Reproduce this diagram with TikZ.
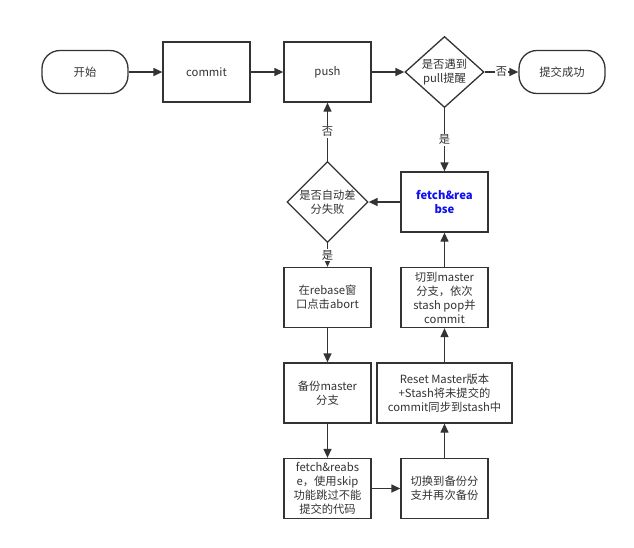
\documentclass[tikz,border=0pt]{standalone}
\usepackage{fontspec}
\setmainfont{Noto Sans CJK SC}
\usetikzlibrary{shapes.geometric,arrows.meta}
\definecolor{linegray}{HTML}{333333}
\definecolor{fetchblue}{HTML}{1010F0}
\tikzset{
  box/.style={draw=linegray, line width=1.3pt, minimum width=87pt, minimum height=60pt,
    align=center, text=linegray, inner sep=2pt},
  term/.style={box, rounded corners=18pt, minimum width=86pt, minimum height=43pt},
  decision/.style={diamond, draw=linegray, line width=1.3pt, minimum width=79pt,
    minimum height=60pt, inner sep=0pt, align=center, text=linegray},
  flow/.style={draw=linegray, line width=1.3pt, -{Triangle[length=9pt,width=8pt]}},
  tag/.style={fill=white, text=linegray, inner sep=1pt}
}
\begin{document}
\begin{tikzpicture}[x=1pt, y=-1pt, font=\fontsize{11.3}{14}\selectfont]
    \useasboundingbox (0,0) rectangle (634,547);

    % top row
    \node[term] (start) at (85,72) {开始};
    \node[box] (commit) at (206.5,72) {commit};
    \node[box] (push) at (327.5,72) {push};
    \node[decision] (pullq) at (444.5,72) {是否遇到\\pull提醒};
    \node[term] (done) at (562,72) {提交成功};

    % left column
    \node[decision] (autoq) at (327.5,202) {是否自动差\\分失败};
    \node[box] (abort) at (327.5,297.5) {在rebase窗\\口点击abort};
    \node[box] (backup) at (327.5,393) {备份master\\分支};
    \node[box] (skip) at (327.5,488.5) {fetch\&reabs\\e，使用skip\\功能跳过不能\\提交的代码};

    % right column
    \node[box, text=fetchblue, font=\fontsize{11.3}{14}\selectfont\bfseries] (fetch) at (444.5,202) {fetch\&rea\\bse};
    \node[box] (pop) at (444.5,297.5) {切到master\\分支，依次\\stash pop并\\commit};
    \node[box, minimum width=135pt] (reset) at (444.5,393) {Reset Master版本\\+Stash将未提交的\\commit同步到stash中};
    \node[box] (switch) at (444.5,488.5) {切换到备份分\\支并再次备份};

    \draw[flow] (start) -- (commit);
    \draw[flow] (commit) -- (push);
    \draw[flow] (push) -- (pullq);
    \draw[flow] (pullq) -- node[tag] {否} (done);
    \draw[flow] (pullq) -- node[tag] {是} (fetch);
    \draw[flow] (fetch) -- (autoq);
    \draw[flow] (autoq) -- node[tag] {否} (push);
    \draw[flow] (autoq) -- node[tag] {是} (abort);
    \draw[flow] (abort) -- (backup);
    \draw[flow] (backup) -- (skip);
    \draw[flow] (skip) -- (switch);
    \draw[flow] (switch) -- (reset);
    \draw[flow] (reset) -- (pop);
    \draw[flow] (pop) -- (fetch);
\end{tikzpicture}
\end{document}
